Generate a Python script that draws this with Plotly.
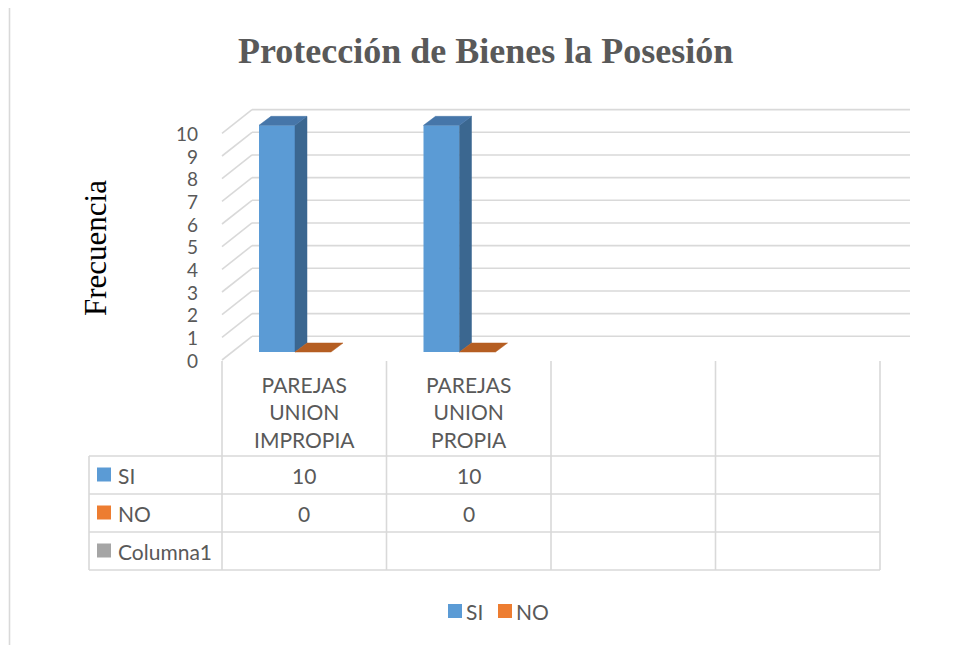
import plotly.graph_objects as go

# ---------------- data ----------------
categories = ["PAREJAS<br>UNION<br>IMPROPIA", "PAREJAS<br>UNION<br>PROPIA", "", ""]
si_values = [10, 10, None, None]
no_values = [0, 0, None, None]
columna1_values = [None, None, None, None]
series_names = ["SI", "NO", "Columna1"]
y_ticks = [0, 1, 2, 3, 4, 5, 6, 7, 8, 9, 10]
title_text = "Protección de Bienes la Posesión"
y_title = "Frecuencia"

# ---------------- styling ----------------
BLUE, BLUE_SIDE, BLUE_TOP = "#5B9BD5", "#3B6790", "#4676A9"
ORANGE, ORANGE_SIDE, ORANGE_TOP = "#ED7D31", "#A9561E", "#B55E22"
GRAY = "#A5A5A5"
GRID = "#D9D9D9"
TXT = "#595959"
SANS = "Lato, 'Noto Sans', sans-serif"
SERIF = "'Liberation Serif', 'Times New Roman', serif"
FS = 21
TICK_FS = 19

OFF = 8                      # body margin of the page
FW, FH = 968 - OFF, 645 - OFF
X0, CW = 222.0, 164.5        # page px of category 0 left edge, px per category
Y0, UH = 360.0, 22.667       # page px of value 0 (front plane), px per unit

def px(p):
    return (p - OFF) / FW

def py(p):
    return 1 - (p - OFF) / FH

def xpix(xd):
    return X0 + xd * CW

WDX, WDY = 30 / CW, 23.7 / UH      # wall depth
BW = 36 / CW                        # bar width
BOFF = -9.25 / CW                   # offset of bar pair from category centre
B0 = 8 / UH                         # base shift of bars (depth)
BDX, BDY = 12 / CW, 9 / UH          # bar depth

n = len(categories)
fig = go.Figure()
shapes = []
annotations = []

# gridlines (side wall + back wall), drawn below the bars
for v in y_ticks:
    shapes.append(dict(type="line", xref="x", yref="y", x0=0, y0=v, x1=WDX, y1=v + WDY,
                       layer="below", line=dict(color=GRID, width=1.6)))
    shapes.append(dict(type="line", xref="x", yref="y", x0=WDX, y0=v + WDY, x1=n + WDX,
                       y1=v + WDY, layer="below", line=dict(color=GRID, width=1.6)))

def poly(xs, ys, color):
    fig.add_trace(go.Scatter(x=xs + [xs[0]], y=ys + [ys[0]], mode="lines", fill="toself",
                             fillcolor=color, line=dict(color=color, width=0.5),
                             hoverinfo="skip", showlegend=False))

def bar3d(xl, v, front, side, top):
    xr = xl + BW
    b, t = B0, B0 + v
    fig.add_trace(go.Bar(x=[xl + BW / 2], y=[v], base=[b], width=[BW],
                         marker=dict(color=front, line=dict(width=0)),
                         hoverinfo="skip", showlegend=False))
    if v > 0:
        poly([xr, xr + BDX, xr + BDX, xr], [b, b + BDY, t + BDY, t], side)
    poly([xl, xr, xr + BDX, xl + BDX], [t, t, t + BDY, t + BDY], top)

for i in range(n):
    c = i + 0.5 + BOFF
    if si_values[i] is not None:
        bar3d(c - BW, si_values[i], BLUE, BLUE_SIDE, BLUE_TOP)
    if no_values[i] is not None:
        bar3d(c, no_values[i], ORANGE, ORANGE_SIDE, ORANGE_TOP)

# tick labels
for v in y_ticks:
    annotations.append(dict(x=(200 - X0) / CW, y=v, xref="x", yref="y", text=str(v),
                            showarrow=False, xanchor="right", yanchor="middle",
                            font=dict(family=SANS, size=TICK_FS, color=TXT)))

# ---------------- data table ----------------
ROW_T = [456, 494, 532, 570]
tbl_right = xpix(n)
for i in range(n + 1):
    shapes.append(dict(type="line", xref="x", yref="paper", x0=i, x1=i,
                       y0=py(361), y1=py(570), line=dict(color=GRID, width=1.6)))
shapes.append(dict(type="line", xref="paper", yref="paper", x0=px(89), x1=px(89),
                   y0=py(456), y1=py(570), line=dict(color=GRID, width=1.6)))
for yy in ROW_T:
    shapes.append(dict(type="line", xref="paper", yref="paper", x0=px(89), x1=px(tbl_right),
                       y0=py(yy), y1=py(yy), line=dict(color=GRID, width=1.6)))

for i, cat in enumerate(categories):
    if cat:
        annotations.append(dict(x=i + 0.5, y=py(412), xref="x", yref="paper", text=cat,
                                showarrow=False, xanchor="center", yanchor="middle",
                                font=dict(family=SANS, size=FS, color=TXT)))

series_vals = [si_values, no_values, columna1_values]
series_cols = [BLUE, ORANGE, GRAY]
for r, (name, vals, col) in enumerate(zip(series_names, series_vals, series_cols)):
    yc = (ROW_T[r] + ROW_T[r + 1]) / 2
    shapes.append(dict(type="rect", xref="paper", yref="paper", x0=px(97), x1=px(111),
                       y0=py(yc - 7.5), y1=py(yc + 6.5), fillcolor=col, line=dict(width=0)))
    annotations.append(dict(x=px(116), y=py(yc), xref="paper", yref="paper", text=name,
                            showarrow=False, xanchor="left", yanchor="middle",
                            font=dict(family=SANS, size=FS, color=TXT)))
    for i, v in enumerate(vals):
        if v is not None:
            annotations.append(dict(x=i + 0.5, y=py(yc), xref="x", yref="paper", text=str(v),
                                    showarrow=False, xanchor="center", yanchor="middle",
                                    font=dict(family=SANS, size=FS, color=TXT)))

# ---------------- legend ----------------
leg = [("SI", BLUE, 448), ("NO", ORANGE, 498)]
for name, col, lx in leg:
    shapes.append(dict(type="rect", xref="paper", yref="paper", x0=px(lx), x1=px(lx + 14),
                       y0=py(618), y1=py(604), fillcolor=col, line=dict(width=0)))
    annotations.append(dict(x=px(lx + 16), y=py(611), xref="paper", yref="paper", text=name,
                            showarrow=False, xanchor="left", yanchor="middle",
                            font=dict(family=SANS, size=FS, color=TXT)))

# ---------------- titles ----------------
annotations.append(dict(x=px(485), y=py(51), xref="paper", yref="paper",
                        text="<b>" + title_text + "</b>", showarrow=False,
                        xanchor="center", yanchor="middle",
                        font=dict(family=SERIF, size=36, color=TXT)))
annotations.append(dict(x=px(95), y=py(248), xref="paper", yref="paper", text=y_title,
                        showarrow=False, textangle=-90, xanchor="center", yanchor="middle",
                        font=dict(family=SERIF, size=31, color="#000000")))

# chart border
shapes.append(dict(type="line", xref="paper", yref="paper", x0=px(9.5), x1=px(9.5),
                   y0=py(6.5), y1=py(660), line=dict(color=GRID, width=1.6)))
shapes.append(dict(type="line", xref="paper", yref="paper", x0=px(9.5), x1=px(980),
                   y0=py(6.5), y1=py(6.5), line=dict(color=GRID, width=1.6)))

fig.update_layout(
    width=FW, height=FH,
    margin=dict(l=0, r=0, t=0, b=0),
    paper_bgcolor="white", plot_bgcolor="white",
    showlegend=False, barmode="overlay",
    xaxis=dict(range=[(OFF - X0) / CW, (968 - X0) / CW], visible=False, fixedrange=True),
    yaxis=dict(range=[(Y0 - 645) / UH, (Y0 - OFF) / UH], visible=False, fixedrange=True),
    shapes=shapes, annotations=annotations,
)

fig.write_html("out.html")
